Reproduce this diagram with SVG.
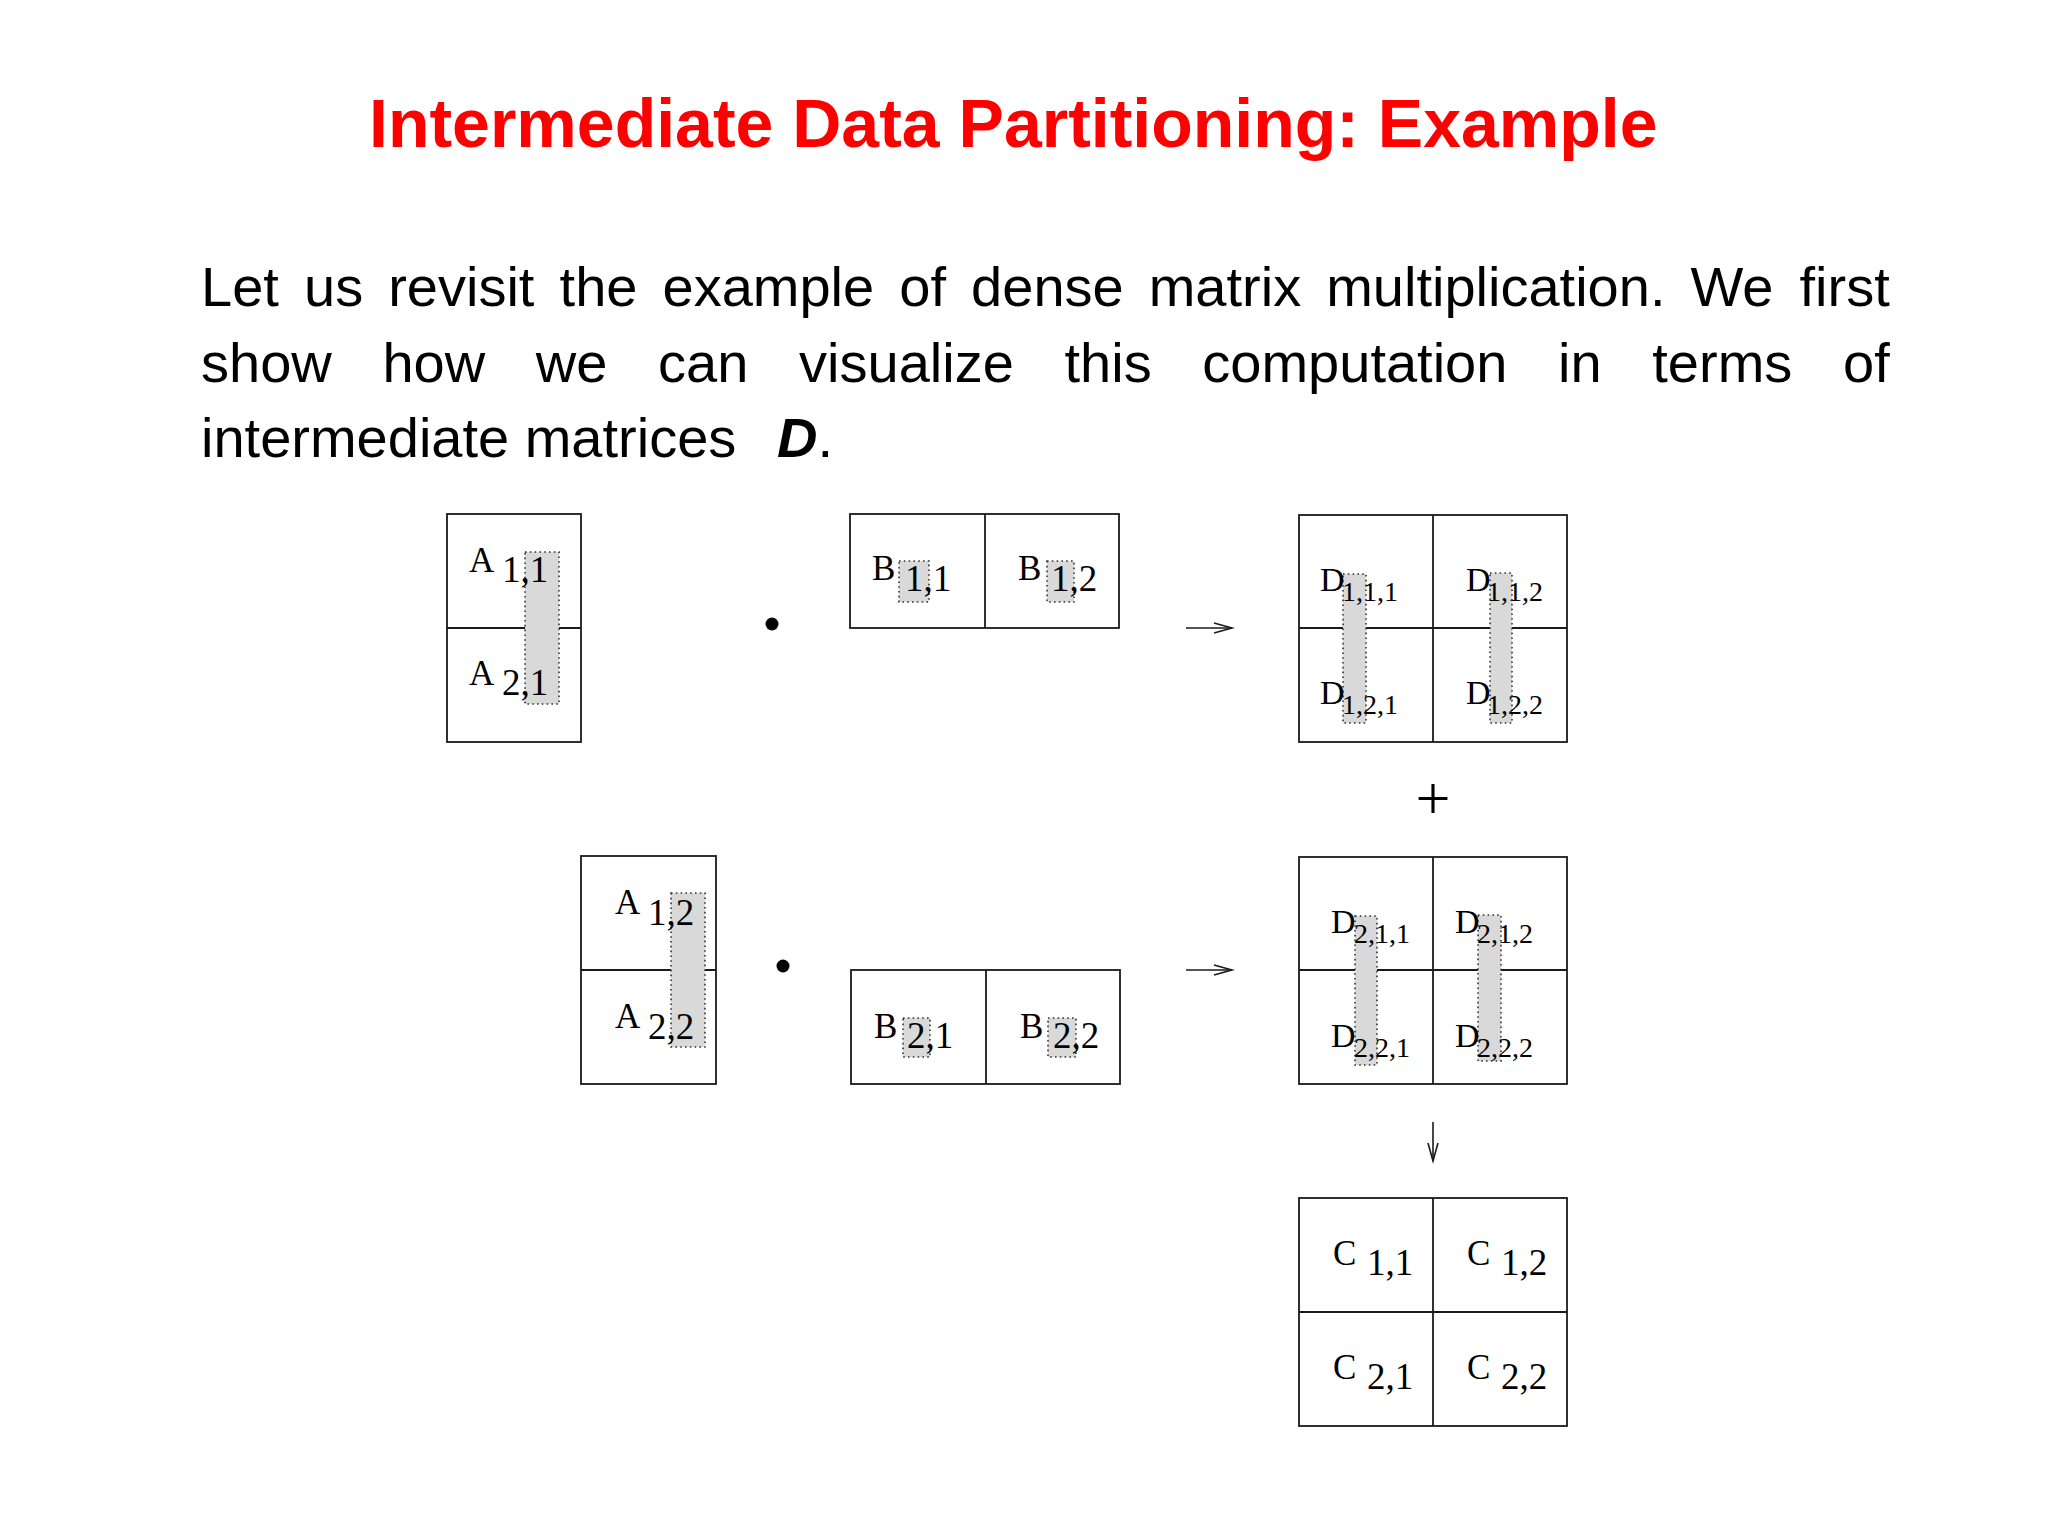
<svg xmlns="http://www.w3.org/2000/svg" width="2048" height="1536" viewBox="0 0 2048 1536">
<style>
.title{font-family:"Liberation Sans",Arial,sans-serif;font-weight:bold;font-size:68px;fill:#ff0000}
.body{font-family:"Liberation Sans",Arial,sans-serif;font-size:56px;fill:#000}
.bi{font-weight:bold;font-style:italic}
.box{fill:none;stroke:#1a1a1a;stroke-width:1.8}
.grid{stroke:#1a1a1a;stroke-width:1.8}
.shade{fill:#d9d9d9;stroke:#333;stroke-width:1.6;stroke-dasharray:1.6 3.2}
.lbl{font-family:"Liberation Serif","Times New Roman",serif;font-size:35px;fill:#000}
.sub{font-size:37px}
.dl{font-family:"Liberation Serif","Times New Roman",serif;font-size:34px;fill:#000}
.ds{font-size:28px}
.op{font-family:"Liberation Serif","Times New Roman",serif;font-size:62px;fill:#000}
.conn{stroke:#1a1a1a;stroke-width:1.6;fill:none}
</style>
<defs>
<marker id="open" markerUnits="userSpaceOnUse" markerWidth="22" markerHeight="14" refX="19" refY="6" orient="auto">
<path d="M1,1 L19,6 L1,11" fill="none" stroke="#1a1a1a" stroke-width="1.6"/>
</marker>
</defs>
<rect width="2048" height="1536" fill="#fff"/>
<text class="title" x="369" y="147">Intermediate Data Partitioning: Example</text>
<g id="paragraph" class="body">
<text y="306"><tspan x="201">Let</tspan><tspan x="304">us</tspan><tspan x="388.2">revisit</tspan><tspan x="559.6">the</tspan><tspan x="662.5">example</tspan><tspan x="899.3">of</tspan><tspan x="971.1">dense</tspan><tspan x="1148.7">matrix</tspan><tspan x="1326.2">multiplication.</tspan><tspan x="1690.5">We</tspan><tspan x="1799.5">first</tspan></text>
<text y="382"><tspan x="201">show</tspan><tspan x="382.4">how</tspan><tspan x="535.8">we</tspan><tspan x="658.1">can</tspan><tspan x="799.1">visualize</tspan><tspan x="1064.5">this</tspan><tspan x="1202.3">computation</tspan><tspan x="1558">in</tspan><tspan x="1652.3">terms</tspan><tspan x="1843.1">of</tspan></text>
<text y="457"><tspan x="201">intermediate matrices</tspan><tspan x="777" class="bi">D</tspan><tspan>.</tspan></text>
</g>
<g id="A1">
<rect class="box" x="447" y="514" width="134" height="228"/>
<line class="grid" x1="447" y1="628" x2="581" y2="628"/>
<rect class="shade" x="525" y="552" width="34" height="152"/>
<text class="lbl" x="469" y="572">A<tspan class="sub" x="502" y="582">1,1</tspan></text>
<text class="lbl" x="469" y="685">A<tspan class="sub" x="502" y="695">2,1</tspan></text>
</g>
<g id="dot1"><circle cx="772" cy="624" r="6.5" fill="#000"/></g>
<g id="B1">
<rect class="box" x="850" y="514" width="269" height="114"/>
<line class="grid" x1="985" y1="514" x2="985" y2="628"/>
<rect class="shade" x="899" y="561" width="30" height="41"/>
<rect class="shade" x="1047" y="561" width="27" height="41"/>
<text class="lbl" x="872" y="580">B<tspan class="sub" x="905" y="591">1,1</tspan></text>
<text class="lbl" x="1018" y="580">B<tspan class="sub" x="1051" y="591">1,2</tspan></text>
</g>
<g id="D1">
<rect class="box" x="1299" y="515" width="268" height="227"/>
<line class="grid" x1="1433" y1="515" x2="1433" y2="742"/>
<line class="grid" x1="1299" y1="628" x2="1567" y2="628"/>
<rect class="shade" x="1343" y="574" width="23" height="149"/>
<rect class="shade" x="1490" y="573" width="22" height="150"/>
<text class="dl" x="1320" y="591">D<tspan class="ds" x="1342" y="601">1,1,1</tspan></text>
<text class="dl" x="1466" y="591">D<tspan class="ds" x="1487" y="601">1,1,2</tspan></text>
<text class="dl" x="1320" y="704">D<tspan class="ds" x="1342" y="714">1,2,1</tspan></text>
<text class="dl" x="1466" y="704">D<tspan class="ds" x="1487" y="714">1,2,2</tspan></text>
</g>
<g id="plus"><text class="op" x="1433" y="819" text-anchor="middle">+</text></g>
<g id="A2">
<rect class="box" x="581" y="856" width="135" height="228"/>
<line class="grid" x1="581" y1="970" x2="716" y2="970"/>
<rect class="shade" x="671" y="893" width="34" height="154"/>
<text class="lbl" x="615" y="914">A<tspan class="sub" x="648" y="925">1,2</tspan></text>
<text class="lbl" x="615" y="1028">A<tspan class="sub" x="648" y="1039">2,2</tspan></text>
</g>
<g id="dot2"><circle cx="783" cy="966" r="6.5" fill="#000"/></g>
<g id="B2">
<rect class="box" x="851" y="970" width="269" height="114"/>
<line class="grid" x1="986" y1="970" x2="986" y2="1084"/>
<rect class="shade" x="903" y="1018" width="27" height="39"/>
<rect class="shade" x="1048" y="1018" width="28" height="39"/>
<text class="lbl" x="874" y="1038">B<tspan class="sub" x="907" y="1048">2,1</tspan></text>
<text class="lbl" x="1020" y="1038">B<tspan class="sub" x="1053" y="1048">2,2</tspan></text>
</g>
<g id="D2">
<rect class="box" x="1299" y="857" width="268" height="227"/>
<line class="grid" x1="1433" y1="857" x2="1433" y2="1084"/>
<line class="grid" x1="1299" y1="970" x2="1567" y2="970"/>
<rect class="shade" x="1355" y="916" width="22" height="149"/>
<rect class="shade" x="1478" y="915" width="23" height="146"/>
<text class="dl" x="1331" y="933">D<tspan class="ds" x="1354" y="943">2,1,1</tspan></text>
<text class="dl" x="1455" y="933">D<tspan class="ds" x="1477" y="943">2,1,2</tspan></text>
<text class="dl" x="1331" y="1047">D<tspan class="ds" x="1354" y="1057">2,2,1</tspan></text>
<text class="dl" x="1455" y="1047">D<tspan class="ds" x="1477" y="1057">2,2,2</tspan></text>
</g>
<g id="C">
<rect class="box" x="1299" y="1198" width="268" height="228"/>
<line class="grid" x1="1433" y1="1198" x2="1433" y2="1426"/>
<line class="grid" x1="1299" y1="1312" x2="1567" y2="1312"/>
<text class="lbl" x="1333" y="1265">C<tspan class="sub" x="1367" y="1275">1,1</tspan></text>
<text class="lbl" x="1467" y="1265">C<tspan class="sub" x="1501" y="1275">1,2</tspan></text>
<text class="lbl" x="1333" y="1379">C<tspan class="sub" x="1367" y="1389">2,1</tspan></text>
<text class="lbl" x="1467" y="1379">C<tspan class="sub" x="1501" y="1389">2,2</tspan></text>
</g>
<g id="connectors">
<line class="conn" x1="1186" y1="628" x2="1232" y2="628" marker-end="url(#open)"/>
<line class="conn" x1="1186" y1="970" x2="1232" y2="970" marker-end="url(#open)"/>
<line class="conn" x1="1433" y1="1122" x2="1433" y2="1161" marker-end="url(#open)"/>
</g>
</svg>
